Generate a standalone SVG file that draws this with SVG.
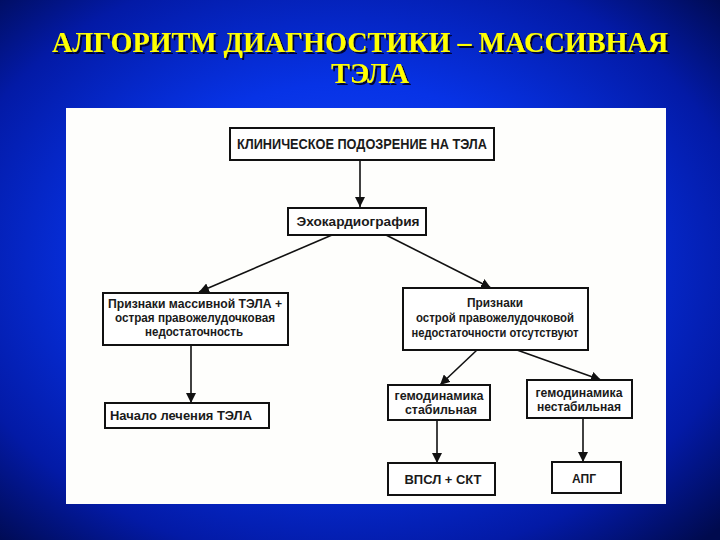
<svg xmlns="http://www.w3.org/2000/svg" xmlns:xlink="http://www.w3.org/1999/xlink" width="720" height="540" viewBox="0 0 720 540">
<defs>
<radialGradient id="bg" cx="48%" cy="48%" r="72%">
<stop offset="0" stop-color="#1a4cff"/>
<stop offset="0.45" stop-color="#0733e6"/>
<stop offset="0.78" stop-color="#031aa6"/>
<stop offset="1" stop-color="#000a4e"/>
</radialGradient>
<filter id="sh" x="-5%" y="-20%" width="110%" height="150%">
<feDropShadow dx="2" dy="2" stdDeviation="0.6" flood-color="#000020" flood-opacity="0.9"/>
</filter>
<marker id="ah" markerUnits="userSpaceOnUse" markerWidth="12" markerHeight="10" refX="10" refY="5" orient="auto">
<path d="M0,0 L10,5 L0,10 Z" fill="#111"/>
</marker>
<style>
.title{font-family:"Liberation Serif","Times New Roman",serif;font-weight:bold;fill:#ffff00;font-size:29px;text-anchor:middle}
.box{fill:#fff;stroke:#111;stroke-width:2}
.t{font-family:"Liberation Sans",Arial,sans-serif;font-weight:bold;font-size:12px;fill:#1a1a1a;text-anchor:middle}
.tl{text-anchor:start}
.big{font-size:14px}
.conn path{fill:none;stroke:#111;stroke-width:1.6;marker-end:url(#ah)}
</style>
</defs>
<rect x="0" y="0" width="720" height="540" fill="url(#bg)"/>
<g id="title" filter="url(#sh)">
<text class="title" x="360" y="52" textLength="616" lengthAdjust="spacingAndGlyphs">АЛГОРИТМ ДИАГНОСТИКИ – МАССИВНАЯ</text>
<text class="title" x="370" y="83" textLength="78" lengthAdjust="spacingAndGlyphs">ТЭЛА</text>
</g>
<rect id="panel" x="66" y="108" width="600" height="396" fill="#fefefc"/>
<g class="conn" id="connectors">
<path d="M360 160 L360 207"/>
<path d="M332 235 L199 292"/>
<path d="M386 235 L491 288"/>
<path d="M191 345 L191 403"/>
<path d="M477 350 L440 385"/>
<path d="M517 350 L601 380"/>
<path d="M437 420 L437 463"/>
<path d="M583 418 L583 462"/>
</g>
<g id="n1">
<rect class="box" x="230" y="128" width="264" height="32"/>
<text class="t big" x="362" y="149" textLength="250" lengthAdjust="spacingAndGlyphs">КЛИНИЧЕСКОЕ ПОДОЗРЕНИЕ НА ТЭЛА</text>
</g>
<g id="n2">
<rect class="box" x="288" y="208" width="138" height="27"/>
<text class="t" x="358" y="226" textLength="123" lengthAdjust="spacingAndGlyphs">Эхокардиография</text>
</g>
<g id="n3">
<rect class="box" x="103" y="293" width="185" height="52"/>
<text class="t" x="195" y="308" textLength="174" lengthAdjust="spacingAndGlyphs">Признаки  массивной ТЭЛА +</text>
<text class="t" x="195" y="322" textLength="160" lengthAdjust="spacingAndGlyphs">острая правожелудочковая</text>
<text class="t" x="194" y="336" textLength="98" lengthAdjust="spacingAndGlyphs">недостаточность</text>
</g>
<g id="n4">
<rect class="box" x="403" y="288" width="185" height="62"/>
<text class="t" x="495" y="307" textLength="56" lengthAdjust="spacingAndGlyphs">Признаки</text>
<text class="t" x="495" y="322" textLength="158" lengthAdjust="spacingAndGlyphs">острой правожелудочковой</text>
<text class="t" x="495" y="337" textLength="167" lengthAdjust="spacingAndGlyphs">недостаточности отсутствуют</text>
</g>
<g id="n5">
<rect class="box" x="105" y="403" width="164" height="25"/>
<text class="t tl" x="110" y="420" textLength="142" lengthAdjust="spacingAndGlyphs">Начало лечения ТЭЛА</text>
</g>
<g id="n6">
<rect class="box" x="388" y="385" width="102" height="35"/>
<text class="t" x="439" y="400" textLength="89" lengthAdjust="spacingAndGlyphs">гемодинамика</text>
<text class="t" x="441" y="414" textLength="72" lengthAdjust="spacingAndGlyphs">стабильная</text>
</g>
<g id="n7">
<rect class="box" x="527" y="380" width="105" height="38"/>
<text class="t" x="579" y="397" textLength="87" lengthAdjust="spacingAndGlyphs">гемодинамика</text>
<text class="t" x="579" y="411" textLength="84" lengthAdjust="spacingAndGlyphs">нестабильная</text>
</g>
<g id="n8">
<rect class="box" x="388" y="463" width="107" height="32"/>
<text class="t" x="443" y="484" textLength="77" lengthAdjust="spacingAndGlyphs">ВПСЛ + СКТ</text>
</g>
<g id="n9">
<rect class="box" x="552" y="462" width="69" height="31"/>
<text class="t" x="584" y="483" textLength="24" lengthAdjust="spacingAndGlyphs">АПГ</text>
</g>
</svg>
